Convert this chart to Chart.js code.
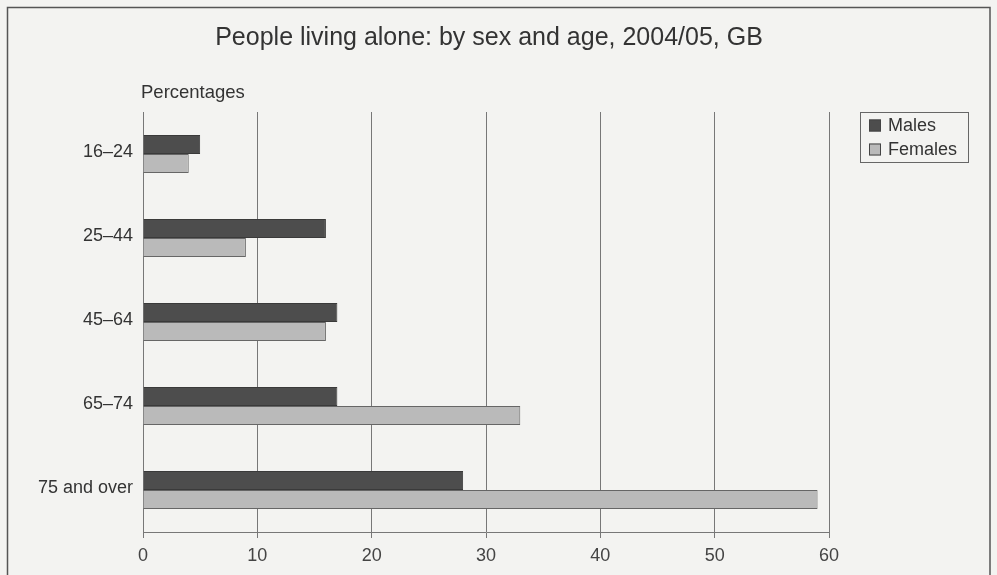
<!DOCTYPE html>
<html>
<head>
<meta charset="utf-8">
<script src="https://cdn.jsdelivr.net/npm/chart.js@4.4.1/dist/chart.umd.min.js"></script>
<style>
  html, body { margin: 0; padding: 0; background: #f3f3f1; }
  #wrap { width: 997px; height: 575px; position: relative; }
</style>
</head>
<body>
<div id="wrap"><canvas id="c" width="997" height="575"></canvas></div>
<script>
const categories = ['16–24', '25–44', '45–64', '65–74', '75 and over'];
const males = [5, 16, 17, 17, 28];
const females = [4, 9, 16, 33, 59];
const xTickValues = [0, 10, 20, 30, 40, 50, 60];
const seriesNames = ['Males', 'Females'];
const titleText = 'People living alone: by sex and age, 2004/05, GB';
const unitText = 'Percentages';

const FONT = "'Liberation Sans', Arial, sans-serif";

const decor = {
  id: 'decor',
  beforeDraw(chart) {
    const ctx = chart.ctx;
    ctx.save();
    ctx.fillStyle = '#f3f3f1';
    ctx.fillRect(0, 0, chart.width, chart.height);
    ctx.strokeStyle = '#555';
    ctx.lineWidth = 1.5;
    ctx.beginPath();
    ctx.moveTo(7.5, 600);
    ctx.lineTo(7.5, 7.5);
    ctx.lineTo(990, 7.5);
    ctx.lineTo(990, 600);
    ctx.stroke();
    ctx.restore();
  },
  afterDraw(chart) {
    const ctx = chart.ctx;
    ctx.save();
    ctx.fillStyle = '#333';
    ctx.textBaseline = 'alphabetic';
    ctx.font = '25px ' + FONT;
    ctx.textAlign = 'center';
    ctx.fillText(titleText, 489, 45);
    ctx.font = '18.5px ' + FONT;
    ctx.textAlign = 'left';
    ctx.fillText(unitText, 141, 97.5);
    // legend
    const lx = 860, ly = 112, lw = 108, lh = 50;
    ctx.strokeStyle = '#666';
    ctx.lineWidth = 1;
    ctx.strokeRect(lx + 0.5, ly + 0.5, lw, lh);
    const rows = [125.5, 149.5];
    chart.data.datasets.forEach((ds, i) => {
      const y = rows[i];
      ctx.fillStyle = ds.backgroundColor;
      ctx.fillRect(lx + 9, y - 6, 12, 12);
      ctx.strokeStyle = '#444';
      ctx.strokeRect(lx + 9.5, y - 5.5, 11, 11);
      ctx.fillStyle = '#333';
      ctx.font = '18px ' + FONT;
      ctx.textBaseline = 'middle';
      ctx.fillText(ds.label, lx + 28, y + 1);
    });
    ctx.restore();
  }
};

new Chart(document.getElementById('c'), {
  type: 'bar',
  data: {
    labels: categories,
    datasets: [
      { label: seriesNames[0], data: males, backgroundColor: '#4d4d4d', borderColor: '#3a3a3a', borderWidth: 1,
        categoryPercentage: 0.45, barPercentage: 1.0 },
      { label: seriesNames[1], data: females, backgroundColor: '#bababa', borderColor: '#666', borderWidth: 1,
        categoryPercentage: 0.45, barPercentage: 1.0 }
    ]
  },
  options: {
    indexAxis: 'y',
    responsive: false,
    animation: false,
    layout: { padding: { top: 112, right: 168, left: 0, bottom: 0 } },
    plugins: {
      legend: { display: false },
      title: { display: false },
      tooltip: { enabled: false }
    },
    scales: {
      x: {
        min: 0, max: 60,
        afterBuildTicks(scale) { scale.ticks = xTickValues.map(v => ({ value: v })); },
        afterFit(scale) { scale.height = 43; },
        grid: { color: '#777', lineWidth: 1, tickLength: 6, drawTicks: true },
        border: { display: true, color: '#777', width: 1 },
        ticks: { color: '#444', font: { family: FONT, size: 18 }, padding: 7 }
      },
      y: {
        afterFit(scale) { scale.width = 143; },
        grid: { display: false, drawTicks: false },
        border: { display: false },
        ticks: { color: '#333', font: { family: FONT, size: 18 }, padding: 10, labelOffset: -2 }
      }
    }
  },
  plugins: [decor]
});
</script>
</body>
</html>
